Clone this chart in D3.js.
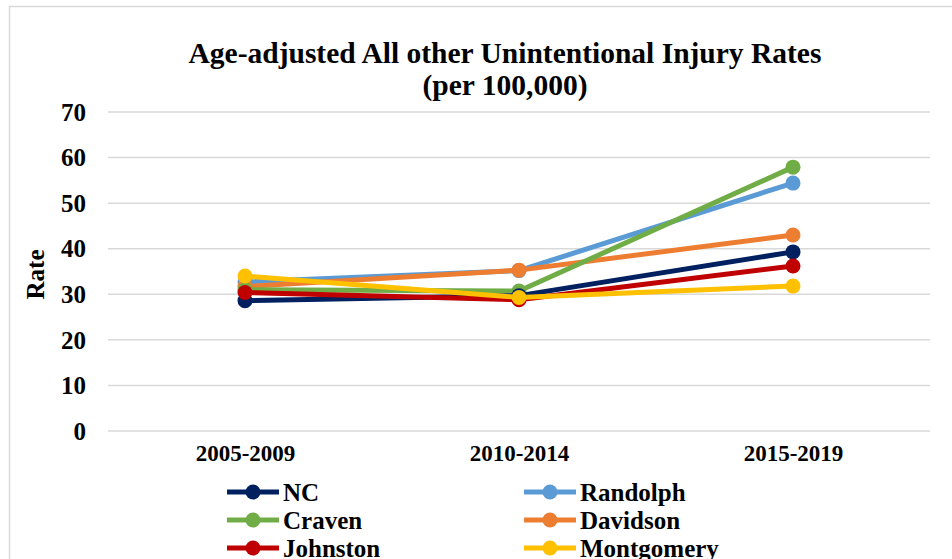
<!DOCTYPE html>
<html>
<head>
<meta charset="utf-8">
<script src="https://cdn.jsdelivr.net/npm/d3@7"></script>
<style>
body { margin: 0; background: #fff; }
text { font-family: "Liberation Serif", "Times New Roman", serif; font-weight: bold; fill: #000; }
</style>
</head>
<body>
<svg id="chart" width="952" height="559"></svg>
<script>
var periods = ["2005-2009", "2010-2014", "2015-2019"];
var yTicks = [0, 10, 20, 30, 40, 50, 60, 70];

var nc         = [28.6, 29.7, 39.3];
var randolph   = [32.7, 35.2, 54.4];
var craven     = [31.0, 30.7, 57.9];
var davidson   = [31.7, 35.3, 43.0];
var johnston   = [30.4, 28.8, 36.2];
var montgomery = [34.0, 29.3, 31.8];

var series = [
  {name: "NC", values: nc, color: "#002060"},
  {name: "Randolph", values: randolph, color: "#5b9bd5"},
  {name: "Craven", values: craven, color: "#70ad47"},
  {name: "Davidson", values: davidson, color: "#ed7d31"},
  {name: "Johnston", values: johnston, color: "#c00000"},
  {name: "Montgomery", values: montgomery, color: "#ffc000"}
];
// draw order: later ones on top
var drawOrder = ["Randolph", "Davidson", "Craven", "NC", "Johnston", "Montgomery"];

var svg = d3.select("#chart");

// outer chart border
svg.append("rect")
  .attr("x", 9.5).attr("y", 6.5)
  .attr("width", 960).attr("height", 600)
  .attr("fill", "none")
  .attr("stroke", "#d9d9d9")
  .attr("stroke-width", 1.5);

var plotLeft = 108, plotRight = 930, plotTop = 112, plotBottom = 431;

var x = d3.scalePoint().domain(periods).range([plotLeft, plotRight]).padding(0.5);
var y = d3.scaleLinear().domain([0, 70]).range([plotBottom, plotTop]);

// title
svg.append("text").attr("x", 505).attr("y", 63)
  .attr("text-anchor", "middle").attr("font-size", 29.5)
  .text("Age-adjusted All other Unintentional Injury Rates");
svg.append("text").attr("x", 505).attr("y", 95)
  .attr("text-anchor", "middle").attr("font-size", 29.5)
  .text("(per 100,000)");

// gridlines
svg.append("g").selectAll("line")
  .data(yTicks)
  .enter().append("line")
  .attr("x1", plotLeft).attr("x2", plotRight)
  .attr("y1", function(d) { return y(d); })
  .attr("y2", function(d) { return y(d); })
  .attr("stroke", "#d9d9d9")
  .attr("stroke-width", 1.5);

// y axis labels
var yAxis = svg.append("g")
  .attr("transform", "translate(" + (plotLeft - 22) + ",0)")
  .call(d3.axisLeft(y).tickValues(yTicks).tickSize(0).tickPadding(0));
yAxis.select(".domain").remove();
yAxis.selectAll("text")
  .attr("font-size", 25)
  .attr("font-family", "Liberation Serif")
  .attr("font-weight", "bold")
  .attr("fill", "#000")
  .attr("dy", "0.33em");

svg.append("text")
  .attr("transform", "translate(44," + ((plotTop + plotBottom) / 2 + 3) + ") rotate(-90)")
  .attr("text-anchor", "middle")
  .attr("font-size", 25)
  .text("Rate");

// x axis labels
var xAxis = svg.append("g")
  .attr("transform", "translate(0," + plotBottom + ")")
  .call(d3.axisBottom(x).tickSize(0).tickPadding(0));
xAxis.select(".domain").remove();
xAxis.selectAll("text")
  .attr("font-size", 23)
  .attr("font-family", "Liberation Serif")
  .attr("font-weight", "bold")
  .attr("fill", "#000")
  .attr("dy", "1.3em");

var line = d3.line()
  .x(function(d, i) { return x(periods[i]); })
  .y(function(d) { return y(d); });

drawOrder.forEach(function(nm) {
  var s = series.find(function(d) { return d.name === nm; });
  var g = svg.append("g");
  g.append("path")
    .datum(s.values)
    .attr("d", line)
    .attr("fill", "none")
    .attr("stroke", s.color)
    .attr("stroke-width", 5)
    .attr("stroke-linejoin", "round");
  g.selectAll("circle")
    .data(s.values)
    .enter().append("circle")
    .attr("cx", function(d, i) { return x(periods[i]); })
    .attr("cy", function(d) { return y(d); })
    .attr("r", 7.5)
    .attr("fill", s.color);
});

// legend
var legend = svg.append("g");
series.forEach(function(s, i) {
  var col = i % 2, row = Math.floor(i / 2);
  var lx = 227 + col * 297, ly = 492 + row * 28;
  var item = legend.append("g").attr("transform", "translate(" + lx + "," + ly + ")");
  item.append("line")
    .attr("x1", 0).attr("x2", 52).attr("y1", 0).attr("y2", 0)
    .attr("stroke", s.color).attr("stroke-width", 5);
  item.append("circle").attr("cx", 26).attr("cy", 0).attr("r", 7.5).attr("fill", s.color);
  item.append("text").attr("x", 56).attr("y", 9)
    .attr("font-size", 25)
    .text(s.name);
});
</script>
</body>
</html>
